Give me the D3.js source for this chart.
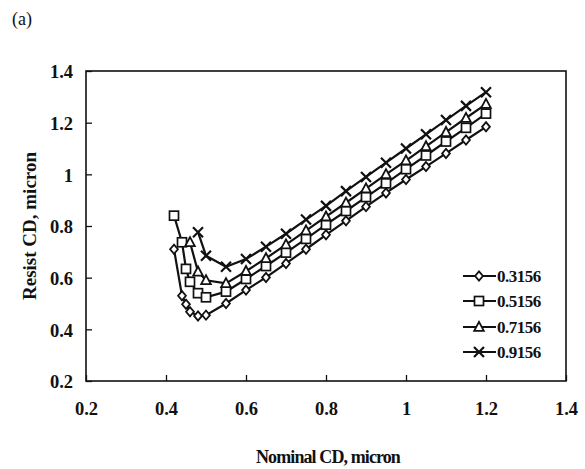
<!DOCTYPE html>
<html>
<head>
<meta charset="utf-8">
<script src="https://cdn.jsdelivr.net/npm/d3@7"></script>
<style>
  html, body { margin: 0; padding: 0; background: #fff; }
  svg text { font-family: "Liberation Serif", "Times New Roman", serif; fill: #111; }
</style>
</head>
<body>
<svg id="chart" width="585" height="469"></svg>
<script>
// Nominal CD (micron) at which resist CD was evaluated
const nominalCD = [0.42, 0.44, 0.45, 0.46, 0.48, 0.50, 0.55, 0.60, 0.65, 0.70,
                   0.75, 0.80, 0.85, 0.90, 0.95, 1.00, 1.05, 1.10, 1.15, 1.20];

// Resist CD (micron) for each setting; null = not measured
const cd_0_3156 = [0.71, 0.53, 0.497, 0.468, 0.452, 0.455, 0.50, 0.552, 0.601, 0.655,
                   0.71, 0.766, 0.82, 0.875, 0.928, 0.98, 1.03, 1.081, 1.133, 1.184];
const cd_0_5156 = [0.84, 0.737, 0.634, 0.584, 0.54, 0.524, 0.546, 0.595, 0.645, 0.697,
                   0.75, 0.805, 0.858, 0.912, 0.965, 1.02, 1.073, 1.127, 1.18, 1.235];
const cd_0_7156 = [null, null, null, 0.737, 0.623, 0.59, 0.578, 0.625, 0.675, 0.728,
                   0.782, 0.836, 0.89, 0.945, 1.0, 1.053, 1.108, 1.163, 1.218, 1.272];
const cd_0_9156 = [null, null, null, null, 0.776, 0.685, 0.642, 0.672, 0.72, 0.77,
                   0.825, 0.878, 0.935, 0.99, 1.045, 1.10, 1.155, 1.21, 1.265, 1.318];

const seriesNames = ["0.3156", "0.5156", "0.7156", "0.9156"];
const seriesValues = [cd_0_3156, cd_0_5156, cd_0_7156, cd_0_9156];
const markerKinds = ["diamond", "square", "triangle", "cross"];

const xTicks = [0.2, 0.4, 0.6, 0.8, 1.0, 1.2, 1.4];
const yTicks = [0.2, 0.4, 0.6, 0.8, 1.0, 1.2, 1.4];

const svg = d3.select("#chart");
const plot = { left: 86, right: 566, top: 71, bottom: 381 };

const x = d3.scaleLinear().domain([0.2, 1.4]).range([plot.left, plot.right]);
const y = d3.scaleLinear().domain([0.2, 1.4]).range([plot.bottom, plot.top]);

const fmt = d => (d === 1 ? "1" : String(d));

// Axes with inward ticks
const xAxis = d3.axisBottom(x).tickValues(xTicks).tickFormat(fmt).tickSize(-6).tickPadding(21);
const yAxis = d3.axisLeft(y).tickValues(yTicks).tickFormat(fmt).tickSize(-6).tickPadding(13);

const gx = svg.append("g").attr("transform", `translate(0,${plot.bottom})`).call(xAxis);
const gy = svg.append("g").attr("transform", `translate(${plot.left},0)`).call(yAxis);
[gx, gy].forEach(g => {
  g.select(".domain").remove();
  g.selectAll(".tick line").attr("stroke", "#111").attr("stroke-width", 1.3);
  g.selectAll(".tick text").attr("font-size", 18.5).attr("font-weight", "bold").attr("fill", "#111");
});
gy.selectAll(".tick text").attr("dy", "0.36em");

// Plot frame
svg.append("rect")
  .attr("x", plot.left).attr("y", plot.top)
  .attr("width", plot.right - plot.left).attr("height", plot.bottom - plot.top)
  .attr("fill", "none").attr("stroke", "#111").attr("stroke-width", 1.6);

// Marker drawing
function drawMarker(g, kind, cx, cy) {
  const s = g.append("g").attr("transform", `translate(${cx},${cy})`);
  if (kind === "diamond") {
    s.append("path").attr("d", "M0,-4.6L3.9,0L0,4.6L-3.9,0Z")
      .attr("fill", "#fff").attr("stroke", "#111").attr("stroke-width", 1.8);
  } else if (kind === "square") {
    s.append("rect").attr("x", -4.5).attr("y", -4.5).attr("width", 9).attr("height", 9)
      .attr("fill", "#fff").attr("stroke", "#111").attr("stroke-width", 1.7);
  } else if (kind === "triangle") {
    s.append("path").attr("d", "M0,-5.2L4.8,3.8L-4.8,3.8Z")
      .attr("fill", "#fff").attr("stroke", "#111").attr("stroke-width", 1.8);
  } else {
    s.append("path").attr("d", "M-5,-5L5,5M-5,5L5,-5")
      .attr("fill", "none").attr("stroke", "#111").attr("stroke-width", 2.2);
  }
}

const line = d3.line()
  .defined(d => d.v !== null)
  .x(d => x(d.x))
  .y(d => y(d.v));

seriesValues.forEach((vals, i) => {
  const pts = nominalCD.map((xv, j) => ({ x: xv, v: vals[j] }));
  const g = svg.append("g");
  g.append("path").datum(pts).attr("d", line)
    .attr("fill", "none").attr("stroke", "#111").attr("stroke-width", 2.2);
  pts.filter(p => p.v !== null).forEach(p => drawMarker(g, markerKinds[i], x(p.x), y(p.v)));
});

// Legend
const legendRows = [276, 301, 327, 352];
seriesNames.forEach((name, i) => {
  const ly = legendRows[i];
  const g = svg.append("g");
  g.append("line").attr("x1", 463).attr("x2", 496).attr("y1", ly).attr("y2", ly)
    .attr("stroke", "#111").attr("stroke-width", 2);
  drawMarker(g, markerKinds[i], 479, ly);
  g.append("text").attr("x", 497).attr("y", ly).attr("dy", "0.35em")
    .attr("font-size", 17).attr("font-weight", "bold").attr("letter-spacing", -0.5)
    .text(name);
});

// Axis titles
svg.append("text")
  .attr("x", (plot.left + plot.right) / 2 + 2).attr("y", 463)
  .attr("text-anchor", "middle").attr("font-size", 18).attr("font-weight", "bold")
  .attr("letter-spacing", -0.9)
  .text("Nominal CD, micron");

svg.append("text")
  .attr("transform", `translate(36,${(plot.top + plot.bottom) / 2}) rotate(-90)`)
  .attr("text-anchor", "middle").attr("font-size", 19).attr("font-weight", "bold")
  .text("Resist CD, micron");

// Panel label
svg.append("text").attr("x", 12).attr("y", 25).attr("font-size", 18).text("(a)");
</script>
</body>
</html>
